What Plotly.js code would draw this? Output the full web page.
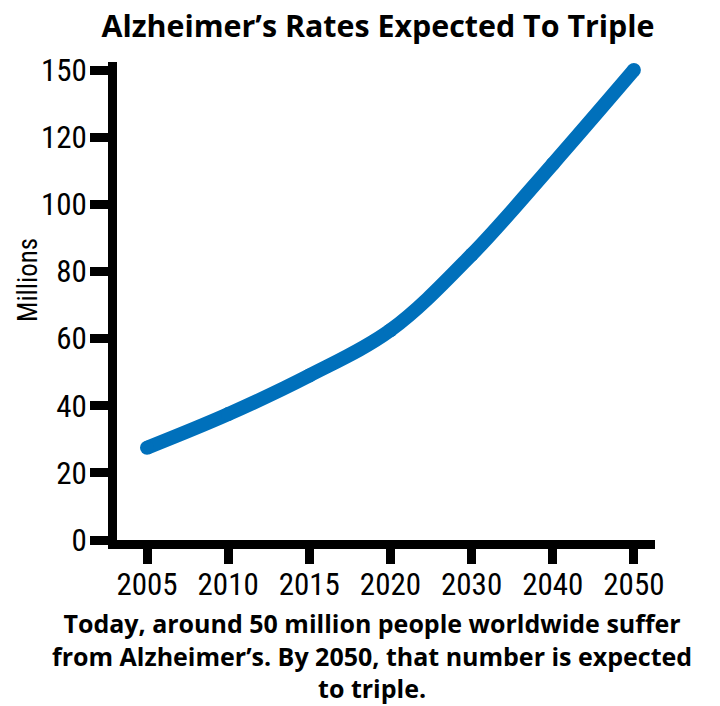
<!DOCTYPE html>
<html>
<head>
<meta charset="utf-8">
<script src="https://cdn.plot.ly/plotly-3.0.1.min.js"></script>
<style>html,body{margin:0;padding:0;background:#fff;}#chart{width:720px;height:706px;}</style>
</head>
<body>
<div id="chart"></div>
<script>
// Data
const years = ["2005", "2010", "2015", "2020", "2030", "2040", "2050"];
// values in the axis' drawn units (the top tick, labelled 150, sits where 140 would be)
const millions = [27.5, 37.5, 49, 62.5, 85, 112, 140];
const yTickVals = [0, 20, 40, 60, 80, 100, 120, 140];
const yTickText = ["0", "20", "40", "60", "80", "100", "120", "150"];
const titleText = "Alzheimer’s Rates Expected To Triple";
const yTitleText = "Millions";
const captionLines = [
  "Today, around 50 million people worldwide suffer",
  "from Alzheimer’s. By 2050, that number is expected",
  "to triple."
];

const condensed = "'Liberation Sans Narrow', 'Roboto Condensed', 'DejaVu Sans Condensed', sans-serif";
const heavy = "'Open Sans', Lato, sans-serif";

const trace = {
  x: years,
  y: millions,
  type: "scatter",
  mode: "lines+markers",
  line: {color: "#0070BB", width: 14, shape: "spline", smoothing: 1},
  marker: {color: "#0070BB", size: 14},
  hoverinfo: "skip"
};

const annotations = [{
  text: "<b>" + captionLines.join("<br>") + "</b>",
  xref: "paper", yref: "paper",
  x: (372 - 117) / (720 - 117 - 65),
  y: (540 - 655) / (540 - 62),
  xanchor: "center", yanchor: "middle",
  align: "center", showarrow: false,
  font: {family: heavy, size: 25, color: "#000", weight: 800}
}, {
  text: yTitleText,
  xref: "paper", yref: "paper",
  x: (28 - 117) / (720 - 117 - 65), y: (540 - 280) / (540 - 62),
  xanchor: "center", yanchor: "middle",
  textangle: -90, showarrow: false,
  font: {family: condensed, size: 27, color: "#000"}
}];

const layout = {
  width: 720,
  height: 706,
  margin: {l: 117, r: 65, t: 62, b: 166},
  paper_bgcolor: "#fff",
  plot_bgcolor: "#fff",
  showlegend: false,
  title: {
    text: "<b>" + titleText + "</b>",
    font: {family: heavy, size: 30.4, color: "#000", weight: 800},
    x: 0.525, xanchor: "center", y: 0.962, yanchor: "middle"
  },
  xaxis: {
    type: "category",
    range: [-0.37, 6.26],
    showgrid: false, zeroline: false,
    showline: true, linecolor: "#000", linewidth: 9,
    ticks: "outside", ticklen: 15, tickwidth: 9, tickcolor: "#000",
    ticklabelstandoff: -6,
    tickfont: {family: condensed, size: 31, color: "#000"},
    fixedrange: true
  },
  yaxis: {
    range: [0, 142.4],
    tickvals: yTickVals, ticktext: yTickText,
    showgrid: false, zeroline: false,
    showline: true, linecolor: "#000", linewidth: 9,
    ticks: "outside", ticklen: 18, tickwidth: 9, tickcolor: "#000",
    ticklabelstandoff: -3,
    tickfont: {family: condensed, size: 31, color: "#000"},
    fixedrange: true
  },
  annotations: annotations
};

Plotly.newPlot("chart", [trace], layout, {displayModeBar: false, staticPlot: true});
</script>
</body>
</html>
